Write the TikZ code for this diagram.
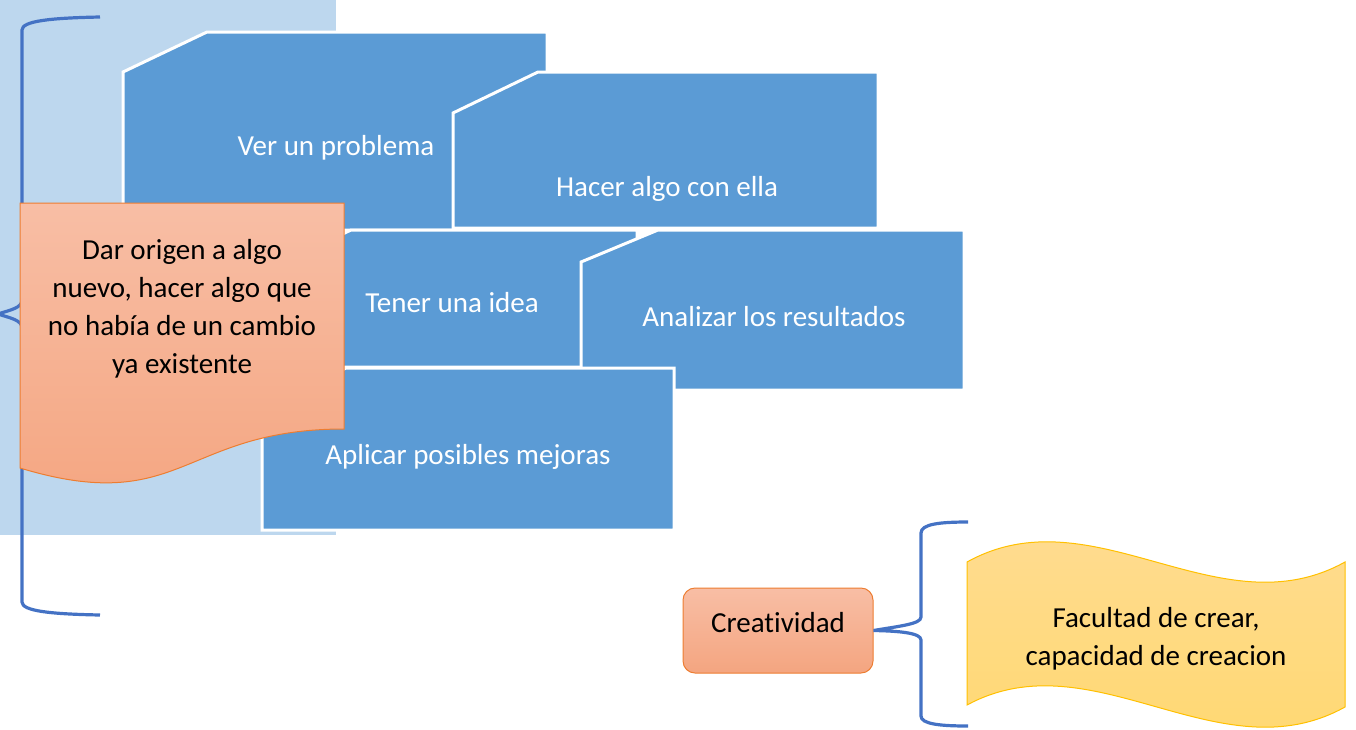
\documentclass[tikz,border=0pt]{standalone}
\usepackage{fontspec}
\setmainfont{Carlito}[Ligatures=NoCommon]
\definecolor{bgblue}{HTML}{BDD7EE}
\definecolor{boxblue}{HTML}{5B9BD5}
\definecolor{bracecol}{HTML}{4472C4}
\definecolor{orTop}{HTML}{F8BEA5}
\definecolor{orBot}{HTML}{F4A580}
\definecolor{orLine}{HTML}{ED7D31}
\definecolor{yeTop}{HTML}{FFDC95}
\definecolor{yeBot}{HTML}{FFD86E}
\definecolor{yeLine}{HTML}{FFC000}
\tikzset{
  bluebox/.style={fill=boxblue, draw=white, line width=3pt, line join=miter},
  whitetxt/.style={text=white, font=\fontsize{29}{38}\selectfont, inner sep=0pt, anchor=base},
  blacktxt/.style={text=black, font=\fontsize{29}{38}\selectfont, inner sep=0pt, align=center},
  orangefill/.style={top color=orTop, bottom color=orBot, draw=orLine, line width=1pt},
  yellowfill/.style={top color=yeTop, bottom color=yeBot, draw=yeLine, line width=1pt},
  bracestyle/.style={draw=bracecol, line width=3.2pt},
}
\begin{document}
\begin{tikzpicture}[x=1pt, y=-1pt]
\useasboundingbox (0,0) rectangle (1356,729);
% light blue background
\fill[bgblue] (0,0) rectangle (336,535);
% left brace
\draw[bracestyle] (100,17) .. controls (50,18) and (22,21) .. (22,30) -- (22,300)
  .. controls (22,308) and (10,310) .. (-2,314)
  .. controls (10,318) and (22,320) .. (22,328) -- (22,602)
  .. controls (22,611) and (50,614) .. (100,615);
% blue boxes
\path[bluebox] (123,72) -- (207,32) -- (547,32) -- (547,230) -- (123,230) -- cycle;
\node[whitetxt] (vp) at (336,155) {Ver un problema};
\path[bluebox] (453,113) -- (538,72) -- (878,72) -- (878,228) -- (453,228) -- cycle;
\node[whitetxt] (ha) at (667,196) {Hacer algo con ella};
\path[bluebox] (267,270) -- (351,230) -- (637,230) -- (637,367) -- (267,367) -- cycle;
\node[whitetxt] (ti) at (452,312) {Tener una idea};
\path[bluebox] (581,262) -- (658,230) -- (964,230) -- (964,390) -- (581,390) -- cycle;
\node[whitetxt] (ar) at (774,326) {Analizar los resultados};
\path[bluebox] (262,408) -- (346,368) -- (674,368) -- (674,530) -- (262,530) -- cycle;
\node[whitetxt] (ap) at (468,464) {Aplicar posibles mejoras};
% orange document
\path[orangefill] (20,203) -- (344,203) -- (344,429)
  .. controls (182,429) and (182,517) .. (20,468) -- cycle;
\node[blacktxt] (dar) at (182,309) {Dar origen a algo\\nuevo, hacer algo que\\no había de un cambio\\ya existente};
% Creatividad
\node[draw=orLine, line width=1pt, top color=orTop, bottom color=orBot, rounded corners=12pt,
  minimum width=190pt, minimum height=85pt, inner sep=0pt, text height=10pt, text depth=7pt,
  font=\fontsize{29}{38}\selectfont]
  (cre) at (778,630.5) {Creatividad};
% yellow wave
\path[yellowfill] (967,562) .. controls (1093,492) and (1219,632) .. (1345,562) -- (1345,707)
  .. controls (1219,777) and (1093,637) .. (967,705) -- cycle;
\node[blacktxt] (fac) at (1156,639) {Facultad de crear,\\capacidad de creacion};
% right brace
\coordinate (btop) at (968,522);
\coordinate (bbot) at (968,726);
\draw[bracestyle] (btop) .. controls (940,522) and (921,524) .. (921,533) -- (921,617)
  .. controls (921,624) and (900,626) .. (cre.east)
  .. controls (900,631) and (921,633) .. (921,640) -- (921,716)
  .. controls (921,724) and (940,726) .. (bbot);
\end{tikzpicture}
\end{document}
